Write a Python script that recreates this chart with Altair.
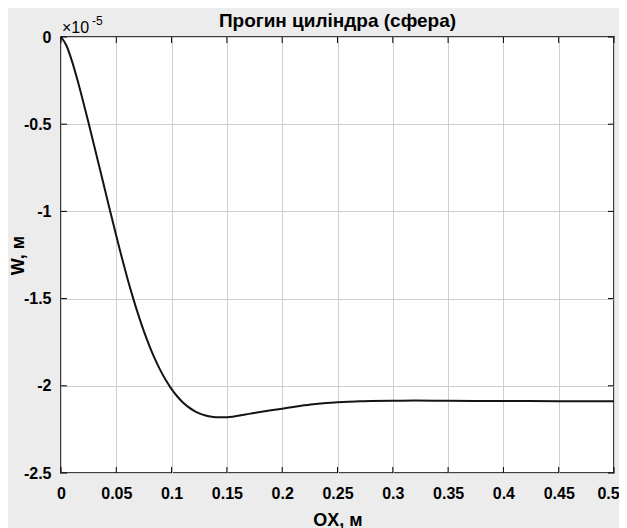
import altair as alt
import pandas as pd

# Curve data (W in units of 1e-5 m)
ox = [0.0, 0.005, 0.01, 0.015, 0.02, 0.025, 0.03, 0.035, 0.04, 0.045, 0.05,
      0.055, 0.06, 0.065, 0.07, 0.075, 0.08, 0.085, 0.09, 0.095, 0.1,
      0.105, 0.11, 0.115, 0.12, 0.125, 0.13, 0.135, 0.14, 0.145, 0.15,
      0.155, 0.16, 0.17, 0.18, 0.19, 0.2, 0.21, 0.22, 0.23, 0.24, 0.25,
      0.26, 0.27, 0.28, 0.3, 0.32, 0.35, 0.4, 0.45, 0.5]
w = [0.0, -0.05, -0.14, -0.25, -0.37, -0.495, -0.623, -0.753, -0.883, -1.013, -1.141,
     -1.265, -1.383, -1.493, -1.595, -1.688, -1.772, -1.847, -1.913, -1.970, -2.019,
     -2.060, -2.094, -2.121, -2.142, -2.158, -2.169, -2.176, -2.180, -2.181, -2.180,
     -2.177, -2.172, -2.161, -2.150, -2.140, -2.131, -2.121, -2.112, -2.104, -2.098, -2.094,
     -2.091, -2.089, -2.087, -2.086, -2.085, -2.086, -2.087, -2.088, -2.088]

x_ticks = [0, 0.05, 0.1, 0.15, 0.2, 0.25, 0.3, 0.35, 0.4, 0.45, 0.5]
y_ticks = [0, -0.5, -1, -1.5, -2, -2.5]

title_text = ["Прогин циліндра (сфера)"]
x_title = "OX, м"
y_title = "W, м"
exp_base_text = ["×10"]
exp_sup_text = ["-5"]

W, H = 553, 436
FONT = "Liberation Sans"

curve = pd.DataFrame({"x": ox, "w": w})
xt = pd.DataFrame({"x": x_ticks})
yt = pd.DataFrame({"w": y_ticks})

xs = alt.Scale(domain=[0, 0.5], nice=False, zero=False)
ys = alt.Scale(domain=[-2.5, 0], nice=False, zero=False)

x_axis = alt.Axis(
    values=x_ticks, labelExpr="'' + datum.value", title=x_title,
    ticks=False, tickSize=0, domain=False, grid=True, labelFlush=False,
    labelOverlap=False,
    labelOffset={"condition": {"test": "datum.value >= 0.5", "value": -6}, "value": 0},
    labelPadding=25, labelBaseline="alphabetic",
    titleX=W / 2, titleY=52, titleBaseline="alphabetic", titleAlign="center")
y_axis = alt.Axis(
    values=y_ticks, labelExpr="'' + datum.value", title=y_title,
    ticks=False, tickSize=0, domain=False, grid=True, labelFlush=False,
    labelOverlap=False,
    labelPadding=10,
    titleX=-38, titleY=H / 2, titleAngle=-90, titleBaseline="alphabetic",
    titleAlign="center")

line = alt.Chart(curve).mark_line(color="#141414", strokeWidth=2,
                                  interpolate="monotone").encode(
    x=alt.X("x:Q", scale=xs, axis=x_axis, title=x_title),
    y=alt.Y("w:Q", scale=ys, axis=y_axis, title=y_title),
)

tick_len = 6
xb = alt.Chart(xt).mark_rule(color="black", strokeWidth=1).encode(
    x=alt.X("x:Q", scale=xs, axis=x_axis, title=x_title),
    y=alt.value(H - tick_len), y2=alt.value(H))
xtop = alt.Chart(xt).mark_rule(color="black", strokeWidth=1).encode(
    x=alt.X("x:Q", scale=xs, axis=x_axis, title=x_title),
    y=alt.value(0), y2=alt.value(tick_len))
yl = alt.Chart(yt).mark_rule(color="black", strokeWidth=1).encode(
    y=alt.Y("w:Q", scale=ys, axis=y_axis, title=y_title),
    x=alt.value(0), x2=alt.value(tick_len))
yr = alt.Chart(yt).mark_rule(color="black", strokeWidth=1).encode(
    y=alt.Y("w:Q", scale=ys, axis=y_axis, title=y_title),
    x=alt.value(W - tick_len), x2=alt.value(W))

exp_base = alt.Chart(pd.DataFrame({"t": exp_base_text})).mark_text(
    align="left", baseline="alphabetic", font=FONT, fontSize=16,
    fontWeight="normal", dx=1, dy=-4, color="black").encode(
    x=alt.datum(0, scale=xs), y=alt.datum(0, scale=ys), text="t:N")
exp_sup = alt.Chart(pd.DataFrame({"t": exp_sup_text})).mark_text(
    align="left", baseline="alphabetic", font=FONT, fontSize=12,
    fontWeight="normal", dx=31, dy=-12, color="black").encode(
    x=alt.datum(0, scale=xs), y=alt.datum(0, scale=ys), text="t:N")
title = alt.Chart(pd.DataFrame({"t": title_text})).mark_text(
    align="center", baseline="alphabetic", font=FONT, fontSize=19,
    fontWeight="bold", dy=-10, color="black").encode(
    x=alt.datum(0.25, scale=xs), y=alt.datum(0, scale=ys), text="t:N")

chart = alt.layer(line, xb, xtop, yl, yr, exp_base, exp_sup, title).properties(
    width=W, height=H,
    autosize=alt.AutoSizeParams(type="none"),
    padding={"left": 53, "top": 29, "right": 5, "bottom": 60},
    background="#ececec",
).configure_view(
    fill="white", stroke="black", strokeWidth=1.5
).configure_axis(
    labelFont=FONT, labelFontSize=16, labelFontWeight="bold", labelColor="black",
    titleFont=FONT, titleFontSize=18, titleFontWeight="bold", titleColor="black",
    gridColor="#cfcfcf", gridWidth=1, gridOpacity=1,
)

chart.save("out.html", embed_options={"renderer": "svg", "actions": False})
